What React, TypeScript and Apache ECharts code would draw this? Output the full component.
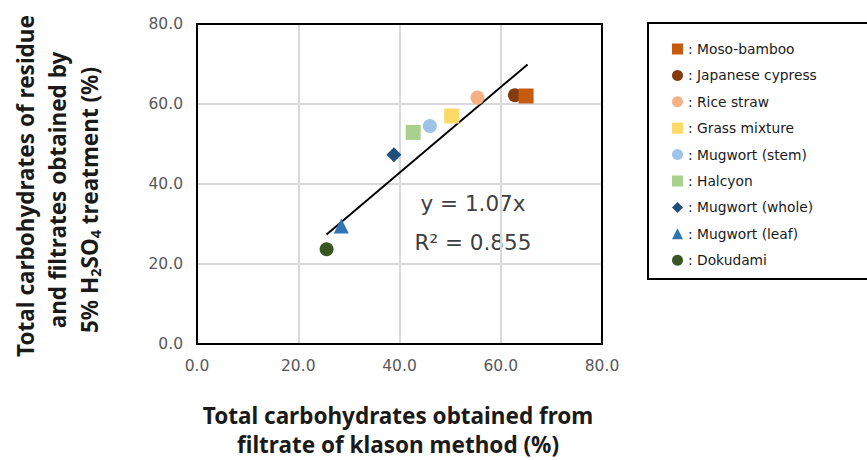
import React, { useEffect, useRef } from "react";
import * as echarts from "echarts";

const names = [
  "Moso-bamboo",
  "Japanese cypress",
  "Rice straw",
  "Grass mixture",
  "Mugwort (stem)",
  "Halcyon",
  "Mugwort (whole)",
  "Mugwort (leaf)",
  "Dokudami",
];
const xValues = [65.0, 62.8, 55.4, 50.3, 46.0, 42.7, 38.9, 28.5, 25.6];
const yValues = [62.0, 62.2, 61.6, 57.0, 54.5, 52.9, 47.3, 29.5, 23.7];
const colors = ["#C55A11", "#843C0C", "#F4B183", "#FFD966", "#9DC3E6", "#A9D18E", "#1F4E79", "#2E75B6", "#375623"];
const symbols = ["rect", "circle", "circle", "rect", "circle", "rect", "diamond", "triangle", "circle"];
const trendX = [25.6, 65.3];
const trendY = [27.4, 69.9];
const axisTicks = [0, 20, 40, 60, 80];

export default function App() {
  const ref = useRef<HTMLDivElement>(null);
  useEffect(() => {
    if (!ref.current) return;
    const chart = echarts.init(ref.current, undefined, { renderer: "svg" });
    const font = "DejaVu Sans";
    const tfont = "Noto Sans";
    const tsize = 22.5;
    const scatter = names.map((n, i) => ({
      name: n,
      type: "scatter",
      symbol: symbols[i],
      symbolSize: symbols[i] === "circle" ? 14 : 15,
      itemStyle: { color: colors[i], opacity: 1 },
      data: [[xValues[i], yValues[i]]],
      z: i === 0 ? 4 : 3,
    }));
    const titleStyle = { fontFamily: tfont, fontWeight: "bold", fontSize: tsize, fill: "#1a1a1a", align: "center", verticalAlign: "middle" };
    chart.setOption({
      animation: false,
      grid: { left: 197, top: 24, right: 265, bottom: 116 },
      xAxis: {
        type: "value",
        min: axisTicks[0],
        max: axisTicks[axisTicks.length - 1],
        interval: 20,
        axisLine: { show: false },
        axisTick: { show: false },
        splitLine: { lineStyle: { color: "#d9d9d9", width: 2 } },
        axisLabel: { formatter: (v: number) => v.toFixed(1), color: "#595959", fontFamily: font, fontSize: 15.5, margin: 14 },
      },
      yAxis: {
        type: "value",
        min: axisTicks[0],
        max: axisTicks[axisTicks.length - 1],
        interval: 20,
        axisLine: { show: false },
        axisTick: { show: false },
        splitLine: { lineStyle: { color: "#d9d9d9", width: 2 } },
        axisLabel: { formatter: (v: number) => v.toFixed(1), color: "#595959", fontFamily: font, fontSize: 15.5, margin: 14 },
      },
      legend: {
        orient: "vertical",
        left: 667,
        top: 36,
        itemWidth: 11,
        itemHeight: 11,
        itemGap: 10.4,
        data: names,
        formatter: (n: string) => ": " + n,
        textStyle: { fontFamily: font, fontSize: 13.8, color: "#1a1a1a", lineHeight: 16 },
        z: 10,
      },
      graphic: [
        { type: "rect", z: 1, shape: { x: 648, y: 23, width: 240, height: 256 }, style: { fill: "#fff", stroke: "#000", lineWidth: 2 } },
        { type: "rect", z: 50, silent: true, shape: { x: 197, y: 24, width: 405, height: 320 }, style: { fill: "none", stroke: "#000", lineWidth: 2 } },
        { type: "text", x: 473, y: 203, style: { text: "y = 1.07x", fontFamily: font, fontSize: 21.5, fill: "#404040", align: "center", verticalAlign: "middle" } },
        { type: "text", x: 473, y: 242, style: { text: "R² = 0.855", fontFamily: font, fontSize: 21.5, fill: "#404040", align: "center", verticalAlign: "middle" } },
        { type: "text", x: 398, y: 415, style: { text: "Total carbohydrates obtained from", ...titleStyle } },
        { type: "text", x: 398, y: 444, style: { text: "filtrate of klason method (%)", ...titleStyle } },
        { type: "text", x: 25, y: 186, rotation: Math.PI / 2, style: { text: "Total carbohydrates of residue", ...titleStyle } },
        { type: "text", x: 57, y: 190, rotation: Math.PI / 2, style: { text: "and filtrates obtained by", ...titleStyle } },
        {
          type: "text", x: 89, y: 200, rotation: Math.PI / 2,
          style: {
            text: "5% H{s|2}SO{s|4} treatment (%)",
            ...titleStyle,
            rich: { s: { fontFamily: tfont, fontWeight: "bold", fontSize: 14.5, fill: "#1a1a1a", padding: [11, 0, 0, 0] } },
          },
        },
      ],
      series: [
        ...scatter,
        {
          type: "line",
          name: "trend",
          data: trendX.map((x, i) => [x, trendY[i]]),
          showSymbol: false,
          symbol: "none",
          lineStyle: { color: "#000", width: 2 },
          z: 2,
          silent: true,
        },
      ],
    });
    return () => chart.dispose();
  }, []);
  return <div ref={ref} style={{ width: 867, height: 460, position: "absolute", left: 0, top: 0 }} />;
}
